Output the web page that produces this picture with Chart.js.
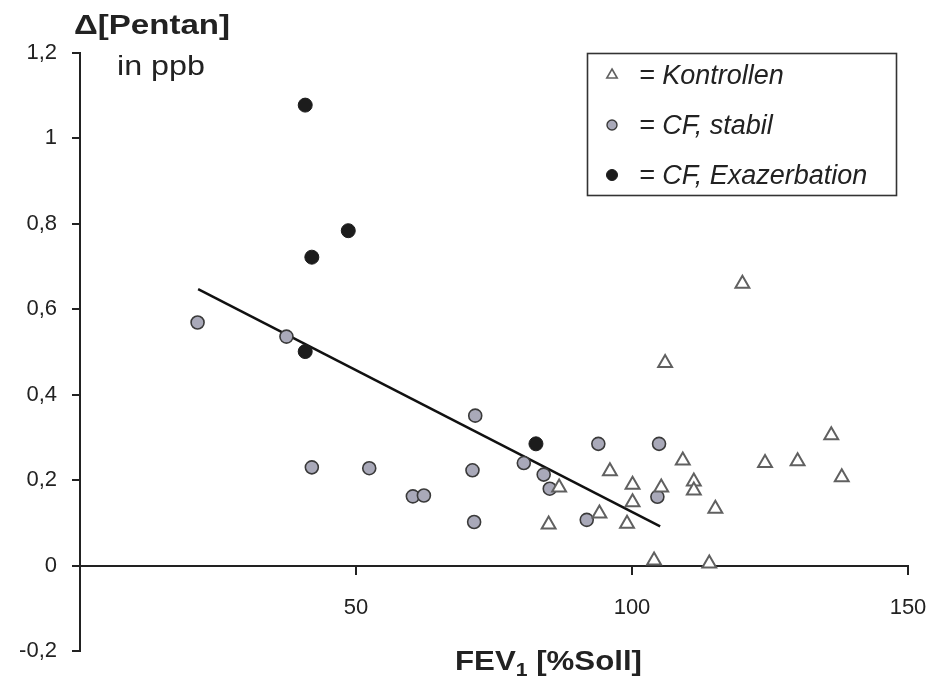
<!DOCTYPE html>
<html>
<head>
<meta charset="utf-8">
<script src="https://cdn.jsdelivr.net/npm/chart.js"></script>
<style>
html,body{margin:0;padding:0;background:#fff;}
#wrap{position:relative;width:929px;height:677px;}
</style>
</head>
<body>
<div id="wrap"><canvas id="c"></canvas></div>
<script>
// ---- data ----
const kontrollenX = [84.9, 86.8, 94.1, 96.0, 99.1, 100.1, 100.1, 104.0, 105.3, 106.0, 109.2, 111.2, 111.2, 114.0, 115.1, 120.0, 124.1, 130.0, 136.1, 138.0];
const kontrollenY = [0.096, 0.183, 0.122, 0.221, 0.098, 0.189, 0.148, 0.012, 0.183, 0.474, 0.246, 0.197, 0.176, 0.005, 0.133, 0.660, 0.240, 0.244, 0.305, 0.207];

const stabilX = [21.3, 37.4, 42.0, 52.4, 60.3, 62.3, 71.1, 71.4, 71.6, 80.4, 84.0, 85.1, 91.8, 93.9, 104.6, 104.9];
const stabilY = [0.569, 0.536, 0.230, 0.228, 0.162, 0.164, 0.223, 0.102, 0.351, 0.240, 0.213, 0.180, 0.107, 0.285, 0.161, 0.285];

const exazX = [40.8, 40.8, 42.0, 48.6, 82.6];
const exazY = [1.078, 0.501, 0.722, 0.784, 0.285];

const trendX = [21.4, 105.1];
const trendY = [0.647, 0.092];

const seriesLabels = ['Kontrollen', 'CF, stabil', 'CF, Exazerbation'];

const xTickValues = [0, 50, 100, 150];
const xTickLabels = ['', '50', '100', '150'];
const yTickValues = [-0.2, 0, 0.2, 0.4, 0.6, 0.8, 1.0, 1.2];
const yTickLabels = ['-0,2', '0', '0,2', '0,4', '0,6', '0,8', '1', '1,2'];

const yTitle1 = 'Δ[Pentan]';
const yTitle2 = 'in ppb';
const xTitleMain = 'FEV';
const xTitleSub = '1';
const xTitleRest = ' [%Soll]';

// ---- helpers ----
const FONT = '"Liberation Sans", Arial, Helvetica, sans-serif';
const toPts = (xs, ys) => xs.map((x, i) => ({x: x, y: ys[i]}));

function drawFit(ctx, parts, left, width, baseline) {
  let total = 0;
  parts.forEach(p => { ctx.font = p.font; p.w = ctx.measureText(p.text).width; total += p.w; });
  const s = width / total;
  ctx.save();
  ctx.translate(left, baseline);
  ctx.scale(s, 1);
  ctx.textBaseline = 'alphabetic';
  ctx.textAlign = 'left';
  let x = 0;
  parts.forEach(p => {
    ctx.font = p.font;
    ctx.fillText(p.text, x, p.dy || 0);
    x += p.w;
  });
  ctx.restore();
}

const decorPlugin = {
  id: 'decor',
  afterDraw(chart) {
    const ctx = chart.ctx;
    ctx.save();
    ctx.fillStyle = '#222';
    // y-axis title (horizontal, top-left)
    drawFit(ctx, [{text: yTitle1, font: 'bold 27px ' + FONT}], 74, 156, 34);
    drawFit(ctx, [{text: yTitle2, font: '28px ' + FONT}], 117, 88, 75);
    // x-axis title with subscript
    drawFit(ctx, [
      {text: xTitleMain, font: 'bold 28px ' + FONT},
      {text: xTitleSub, font: 'bold 19px ' + FONT, dy: 6},
      {text: xTitleRest, font: 'bold 28px ' + FONT}
    ], 455, 187, 670);

    // boxed legend
    ctx.lineWidth = 1.6;
    ctx.strokeStyle = '#333';
    ctx.strokeRect(587.5, 53.5, 309, 142);
    const rows = chart.data.datasets.filter(d => d.inLegend);
    rows.forEach((ds, i) => {
      const cy = 75 + i * 50;
      ctx.save();
      ctx.fillStyle = ds.backgroundColor;
      ctx.strokeStyle = ds.borderColor;
      ctx.lineWidth = ds.legendBorder;
      Chart.helpers.drawPoint(ctx, {pointStyle: ds.pointStyle, radius: ds.legendRadius, borderWidth: ds.legendBorder, rotation: 0}, 612, cy);
      ctx.restore();
      ctx.fillStyle = '#222';
      ctx.font = 'italic 27px ' + FONT;
      ctx.textBaseline = 'alphabetic';
      ctx.textAlign = 'left';
      ctx.fillText('= ' + ds.label, 639, cy + 9);
    });
    ctx.restore();
  }
};

new Chart(document.getElementById('c'), {
  type: 'scatter',
  data: {
    datasets: [
      {
        label: seriesLabels[0], inLegend: true,
        data: toPts(kontrollenX, kontrollenY),
        pointStyle: 'triangle', pointRadius: 8, pointBorderWidth: 2,
        backgroundColor: '#ffffff', borderColor: '#606060',
        legendRadius: 6, legendBorder: 1.6, order: 1
      },
      {
        label: seriesLabels[1], inLegend: true,
        data: toPts(stabilX, stabilY),
        pointStyle: 'circle', pointRadius: 6.5, pointBorderWidth: 1.6,
        backgroundColor: '#a9a9b9', borderColor: '#3a3a3a',
        legendRadius: 5, legendBorder: 1.4, order: 1
      },
      {
        label: seriesLabels[2], inLegend: true,
        data: toPts(exazX, exazY),
        pointStyle: 'circle', pointRadius: 7, pointBorderWidth: 1,
        backgroundColor: '#1c1c1c', borderColor: '#1c1c1c',
        legendRadius: 5.5, legendBorder: 1, order: 1
      },
      {
        label: 'Regression', inLegend: false,
        type: 'line',
        data: toPts(trendX, trendY),
        showLine: true, pointRadius: 0, borderColor: '#111', borderWidth: 2.5,
        fill: false, order: 2
      }
    ]
  },
  options: {
    responsive: true,
    maintainAspectRatio: false,
    animation: false,
    layout: {padding: {left: 0, top: 53, right: 21, bottom: 26}},
    plugins: {legend: {display: false}, tooltip: {enabled: false}, title: {display: false}},
    scales: {
      x: {
        type: 'linear',
        position: {y: 0},
        min: 0, max: 150,
        afterBuildTicks: s => { s.ticks = xTickValues.map(v => ({value: v})); },
        afterFit: s => { s.height = 0; s.paddingLeft = 0; s.paddingRight = 0; s.paddingTop = 0; s.paddingBottom = 0; },
        ticks: {
          callback: (v, i) => xTickLabels[i],
          font: {family: FONT, size: 22},
          color: '#222',
          padding: 21,
          maxRotation: 0, autoSkip: false
        },
        grid: {display: true, drawOnChartArea: false, drawTicks: true, tickLength: 8, color: '#222', lineWidth: 2},
        border: {display: true, color: '#222', width: 2}
      },
      y: {
        type: 'linear',
        position: 'left',
        min: -0.2, max: 1.2,
        afterBuildTicks: s => { s.ticks = yTickValues.map(v => ({value: v})); },
        afterFit: s => { s.width = 80; s.paddingLeft = 0; s.paddingRight = 0; s.paddingTop = 0; s.paddingBottom = 0; },
        ticks: {
          callback: (v, i) => yTickLabels[i],
          font: {family: FONT, size: 22},
          color: '#222',
          padding: 15,
          autoSkip: false
        },
        grid: {display: true, drawOnChartArea: false, drawTicks: true, tickLength: 8, color: '#222', lineWidth: 2},
        border: {display: true, color: '#222', width: 2}
      }
    }
  },
  plugins: [decorPlugin]
});
</script>
</body>
</html>
